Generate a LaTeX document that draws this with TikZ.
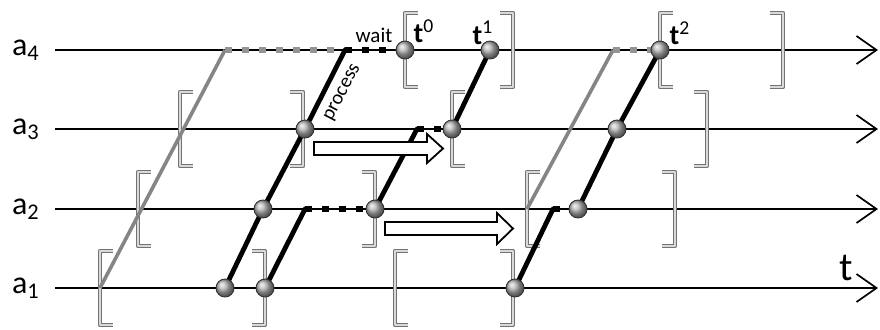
\documentclass[tikz,border=0pt]{standalone}
\usepackage{fontspec}
\setmainfont{Carlito}
\usetikzlibrary{arrows.meta}

\tikzset{
  lane/.style={line width=0.85pt,-{Straight Barb[length=10pt,width=14pt,line width=0.85pt]}},
  job/.style={line width=2.4pt,black,line cap=round},
  ghost/.style={line width=1.8pt,black!48},
  waitb/.style={line width=3.3pt,black,dash pattern=on 3.3pt off 5.2pt},
  waitg/.style={line width=3.3pt,black!42,dash pattern=on 3.3pt off 5.2pt},
  ball/.style={circle,inner sep=0pt,minimum size=9pt,ball color=gray!60,draw=black!80,line width=0.45pt},
  brk/.style={draw=black!55,line width=0.5pt,double=gray!30,double distance=1.1pt},
  shiftarrow/.style={draw=black,line width=0.9pt,fill=white,line join=miter},
}

\begin{document}
\begin{tikzpicture}[x=0.5pt,y=-0.5pt,line join=round]
  \useasboundingbox (0,0) rectangle (880,329);
  % lanes
  \foreach \n/\y in {1/288,2/209,3/129,4/50}{
    \coordinate (L\n) at (55,\y);
    \coordinate (R\n) at (878,\y);
    \draw[lane] (L\n) -- (R\n);
    \node[font=\fontsize{16}{16}\selectfont] (lab\n) at (26,\y) {a\textsubscript{\n}};
  }
  % windows
  \foreach \x/\y in {100/288,395/288,138/209,527/209,180/129,452/129,405/50,660/50}
    \draw[brk] (\x+13,\y-37) -- (\x,\y-37) -- (\x,\y+37) -- (\x+13,\y+37);
  \foreach \x/\y in {265/288,513/288,375/209,675/209,303/129,707/129,513/50,783/50}
    \draw[brk] (\x-13,\y-37) -- (\x,\y-37) -- (\x,\y+37) -- (\x-13,\y+37);
  % points
  \coordinate (G0) at (100,288);
  \coordinate (G1) at (225,50);
  \coordinate (G2) at (527,209);
  \coordinate (G3) at (613,50);
  \coordinate (A1) at (225,288);
  \coordinate (A2) at (263,209);
  \coordinate (A3) at (305,129);
  \coordinate (A4) at (345,50);
  \coordinate (T0) at (405,50);
  \coordinate (B1) at (265,288);
  \coordinate (B2) at (305,209);
  \coordinate (B3) at (375,209);
  \coordinate (B4) at (417,129);
  \coordinate (B5) at (452,129);
  \coordinate (T1) at (490,50);
  \coordinate (C1) at (515,288);
  \coordinate (C2) at (553,209);
  \coordinate (C3) at (578,209);
  \coordinate (C4) at (617,129);
  \coordinate (T2) at (660,50);
  % earlier schedules
  \draw[ghost] (G0) -- (G1);
  \draw[waitg] (G1) -- (A4);
  \draw[ghost] (G2) -- (G3);
  \draw[waitg] (G3) -- (T2);
  % waiting
  \draw[waitb] (A4) -- (T0);
  \draw[waitb] (B2) -- (B3);
  \draw[waitb] (B4) -- (B5);
  \draw[waitb] (C2) -- (C3);
  % processing
  \draw[job] (A1) -- (A2) -- (A3) -- (A4);
  \draw[job] (B1) -- (B2);
  \draw[job] (B3) -- (B4);
  \draw[job] (B5) -- (T1);
  \draw[job] (C1) -- (C2);
  \draw[job] (C3) -- (C4) -- (T2);
  % shifts
  \draw[shiftarrow] (314,142) -- (427,142) -- (427,134) -- (443,148.5) -- (427,163) -- (427,155) -- (314,155) -- cycle;
  \draw[shiftarrow] (385,222) -- (497,222) -- (497,213) -- (513,228.5) -- (497,244) -- (497,235) -- (385,235) -- cycle;
  % events
  \foreach \p in {A1,A2,A3,T0,B1,B3,B5,T1,C1,C3,C4,T2}
    \node[ball] (ball\p) at (\p) {};
  \node[font=\fontsize{14}{14}\selectfont] (t0) at (424,31) {\textbf{t}\textsuperscript{0}};
  \node[font=\fontsize{14}{14}\selectfont] (t1) at (483,33) {\textbf{t}\textsuperscript{1}};
  \node[font=\fontsize{14}{14}\selectfont] (t2) at (680,33) {\textbf{t}\textsuperscript{2}};
  \node[font=\fontsize{10.5}{10.5}\selectfont] (wait) at (374,35) {wait};
  \node[font=\fontsize{10}{10}\selectfont,rotate=62.5] (proc) at (343,93) {process};
  \node[font=\fontsize{20}{20}\selectfont] (time) at (846,268) {t};
\end{tikzpicture}
\end{document}
